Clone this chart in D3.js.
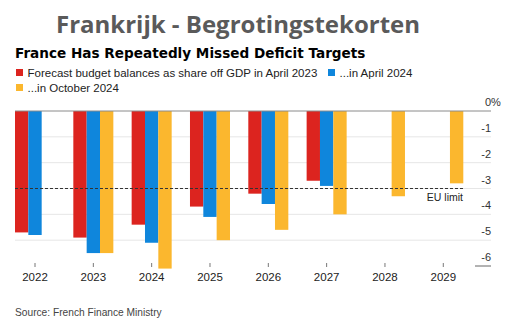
<!DOCTYPE html>
<html>
<head>
<meta charset="utf-8">
<script src="https://cdn.jsdelivr.net/npm/d3@7"></script>
<style>
body { margin: 0; background: #fff; }
svg { display: block; font-family: "Liberation Sans", Arial, sans-serif; }
</style>
</head>
<body>
<svg id="chart" width="512" height="328"></svg>
<script>

let years = ["2022", "2023", "2024", "2025", "2026", "2027", "2028", "2029"];
let series_names = ["Forecast budget balances as share off GDP in April 2023", "...in April 2024", "...in October 2024"];
let series_colors = ["#dc241f", "#0f86dc", "#fbb72e"];

// null = no forecast for that year
let apr2023 = [-4.7, -4.9, -4.4, -3.7, -3.2, -2.7, null, null];
let apr2024 = [-4.8, -5.5, -5.1, -4.1, -3.6, -2.9, null, null];
let oct2024 = [null, -5.5, -6.1, -5.0, -4.6, -4.0, -3.3, -2.8];

let y_ticks = [0, -1, -2, -3, -4, -5, -6];
let eu_limit = -3;

let series = [apr2023, apr2024, oct2024];

let svg = d3.select("#chart");

// header
svg.append("text")
    .attr("x", 238).attr("y", 33)
    .attr("text-anchor", "middle")
    .style("font-family", "'Open Sans', sans-serif")
    .style("font-weight", "bold")
    .style("font-size", "24px")
    .style("fill", "#5a5a5a")
    .text("Frankrijk - Begrotingstekorten");

svg.append("text")
    .attr("x", 15).attr("y", 57.5)
    .style("font-family", "'DejaVu Sans', sans-serif")
    .style("font-weight", "bold")
    .style("font-size", "13.6px")
    .style("fill", "#000")
    .text("France Has Repeatedly Missed Deficit Targets");

// legend
let legend_pos = [[16, 72.5], [328, 72.5], [16, 87.5]];
let legend = svg.append("g");
for (let i = 0; i < series_names.length; i++) {
    legend.append("rect")
        .attr("x", legend_pos[i][0]).attr("y", legend_pos[i][1] - 3.5)
        .attr("width", 7).attr("height", 7)
        .style("fill", series_colors[i]);
    legend.append("text")
        .attr("x", legend_pos[i][0] + 11.5).attr("y", legend_pos[i][1] + 4)
        .style("font-size", "11.5px")
        .style("fill", "#222")
        .text(series_names[i]);
}

// scales
let x = d3.scaleBand().domain(years).range([15, 463.3]).paddingInner(0.314).paddingOuter(0);
let xs = d3.scaleBand().domain([0, 1, 2]).range([0, x.bandwidth()]);
let y = d3.scaleLinear().domain([0, -6]).range([111, 266]);

// gridlines
let grid = svg.append("g");
grid.selectAll("line")
    .data(y_ticks.filter(d => d != 0 && d != -6))
    .enter().append("line")
    .attr("x1", 15).attr("x2", 491)
    .attr("y1", d => y(d)).attr("y2", d => y(d))
    .style("stroke", "#e6e6e6")
    .style("stroke-width", 1);

grid.append("line")
    .attr("x1", 475).attr("x2", 491)
    .attr("y1", y(-6)).attr("y2", y(-6))
    .style("stroke", "#666").style("stroke-width", 1);

// bars
for (let s = 0; s < series.length; s++) {
    svg.append("g").selectAll("rect")
        .data(series[s].map((v, i) => ({year: years[i], v: v})).filter(d => d.v != null))
        .enter().append("rect")
        .attr("x", d => x(d.year) + xs(s))
        .attr("width", xs.bandwidth())
        .attr("y", y(0))
        .attr("height", d => y(d.v) - y(0))
        .style("fill", series_colors[s]);
}

// zero line
svg.append("line")
    .attr("x1", 15).attr("x2", 491)
    .attr("y1", y(0)).attr("y2", y(0))
    .style("stroke", "#8a8a8a").style("stroke-width", 1);

// EU limit
svg.append("line")
    .attr("x1", 15).attr("x2", 463)
    .attr("y1", y(eu_limit)).attr("y2", y(eu_limit))
    .style("stroke", "#333")
    .style("stroke-width", 1.2)
    .style("stroke-dasharray", "3,2");

svg.append("text")
    .attr("x", 463).attr("y", y(eu_limit) + 12.5)
    .attr("text-anchor", "end")
    .style("font-size", "10.5px")
    .style("fill", "#222")
    .text("EU limit");

// y axis labels, sitting above their gridline
let yAxis = svg.append("g");
yAxis.selectAll("text")
    .data(y_ticks)
    .enter().append("text")
    .attr("x", 491)
    .attr("y", d => y(d) - 5)
    .attr("text-anchor", "end")
    .style("font-size", "11px")
    .style("fill", "#333")
    .text(d => d == 0 ? "0" : d);
yAxis.append("text")
    .attr("x", 491).attr("y", y(0) - 5)
    .style("font-size", "11px")
    .style("fill", "#333")
    .text("%");

// x axis
let xAxisGenerator = d3.axisBottom(x).tickSize(4).tickSizeOuter(0).tickPadding(6);
let xg = svg.append("g")
    .attr("transform", "translate(0,263)")
    .call(xAxisGenerator);
xg.select(".domain").remove();
xg.selectAll(".tick line").style("stroke", "#777");
xg.selectAll(".tick text")
    .style("font-family", "'Liberation Sans', Arial, sans-serif")
    .style("font-size", "11.5px")
    .style("fill", "#222");

// source
svg.append("text")
    .attr("x", 15).attr("y", 316)
    .style("font-size", "10.2px")
    .style("fill", "#444")
    .text("Source: French Finance Ministry");

</script>
</body>
</html>
